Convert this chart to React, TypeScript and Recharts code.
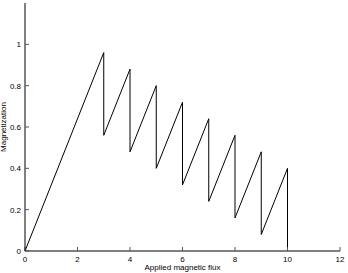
import { LineChart, Line, XAxis, YAxis } from 'recharts'

// sawtooth: linear rise, then vertical drop at each integer flux
const flux = [0, 3, 3, 4, 4, 5, 5, 6, 6, 7, 7, 8, 8, 9, 9, 10, 10]
const magnetization = [
  0, 0.96, 0.56, 0.88, 0.48, 0.8, 0.4, 0.72, 0.32, 0.64, 0.24, 0.56, 0.16, 0.48,
  0.08, 0.4, 0,
]
const xTicks = [0, 2, 4, 6, 8, 10, 12]
const yTicks = [0, 0.2, 0.4, 0.6, 0.8, 1]

const data = flux.map((x, i) => ({ x, m: magnetization[i] }))

const FONT = { fontSize: 8, fontFamily: 'Liberation Sans, Arial, sans-serif', fill: '#000' }

export default function App() {
  return (
    <div style={{ position: 'absolute', left: 0, top: 0, background: '#fff' }}>
      <LineChart
        width={348}
        height={273}
        data={data}
        margin={{ top: 3, right: 8, bottom: 0, left: 0 }}
      >
        <XAxis
          xAxisId="b"
          dataKey="x"
          type="number"
          domain={[0, 12]}
          ticks={xTicks}
          height={22}
          tickSize={-4}
          tickMargin={9}
          tick={FONT}
          axisLine={{ stroke: '#000' }}
          tickLine={{ stroke: '#555' }}
          label={{
            value: 'Applied magnetic flux',
            position: 'insideBottom',
            offset: 3,
            style: FONT,
          }}
        />
        <XAxis
          xAxisId="t"
          dataKey="x"
          type="number"
          orientation="top"
          domain={[0, 12]}
          ticks={xTicks}
          height={0}
          tickSize={-4}
          tick={false}
          axisLine={{ stroke: '#000' }}
          tickLine={{ stroke: '#555' }}
        />
        <YAxis
          yAxisId="l"
          type="number"
          domain={[0, 1.2]}
          ticks={yTicks}
          width={25}
          tickSize={-4}
          tickMargin={8}
          tick={FONT}
          axisLine={{ stroke: '#000' }}
          tickLine={{ stroke: '#555' }}
          label={{
            value: 'Magnetization',
            angle: -90,
            position: 'insideLeft',
            offset: 3,
            style: { ...FONT, textAnchor: 'middle' },
          }}
        />
        <YAxis
          yAxisId="r"
          type="number"
          orientation="right"
          domain={[0, 1.2]}
          ticks={yTicks}
          width={0}
          tickSize={-4}
          tick={false}
          axisLine={{ stroke: '#000' }}
          tickLine={{ stroke: '#555' }}
        />
        <Line
          xAxisId="b"
          yAxisId="l"
          type="linear"
          dataKey="m"
          stroke="#000"
          strokeWidth={1}
          dot={false}
          isAnimationActive={false}
        />
      </LineChart>
    </div>
  )
}
